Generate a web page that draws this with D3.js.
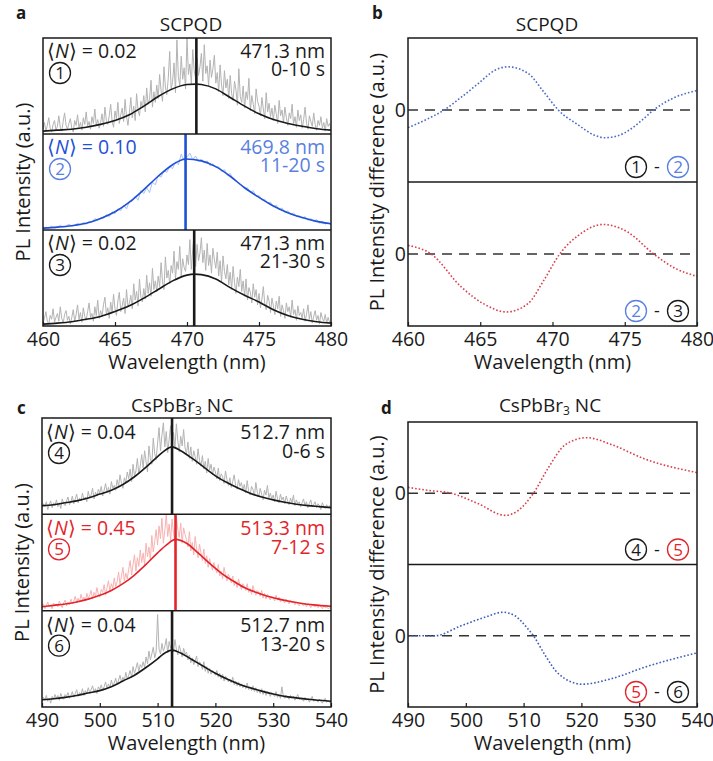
<!DOCTYPE html>
<html>
<head>
<meta charset="utf-8">
<script src="https://cdn.jsdelivr.net/npm/d3@7"></script>
<style>
body { margin: 0; background: #fff; }
svg { display: block; font-family: "Open Sans", sans-serif; }
</style>
</head>
<body>
<script>
// ---- data ----
// x ticks
var ticksA = [460, 465, 470, 475, 480];
var ticksC = [490, 500, 510, 520, 530, 540];

// panel a : raw spectra (fraction of sub-panel height), evenly spaced over 460..480 nm
// rawA1, rawA3 every 0.1 nm; rawA2 every 0.2 nm
var rawA1 = [
  0.05,0.12,0.03,0.09,0.17,0.06,0.02,0.10,0.14,0.04,
  0.08,0.19,0.07,0.03,0.13,0.22,0.09,0.05,0.11,0.16,
  0.06,0.02,0.14,0.09,0.20,0.07,0.12,0.04,0.17,0.10,
  0.23,0.08,0.13,0.05,0.18,0.11,0.26,0.09,0.15,0.06,
  0.12,0.21,0.08,0.28,0.14,0.10,0.19,0.31,0.13,0.07,
  0.24,0.16,0.33,0.11,0.20,0.27,0.13,0.36,0.18,0.09,
  0.22,0.38,0.17,0.29,0.14,0.42,0.25,0.19,0.34,0.27,
  0.40,0.23,0.48,0.31,0.36,0.56,0.28,0.44,0.33,0.51,
  0.37,0.62,0.45,0.34,0.70,0.49,0.41,0.58,0.86,0.46,
  0.55,0.74,0.43,0.98,0.60,0.50,0.81,0.57,0.69,0.47,
  1.00,0.62,0.73,0.52,0.88,0.66,0.58,0.79,0.61,0.70,
  0.84,0.55,0.93,0.63,0.71,0.50,0.77,0.59,0.68,0.82,
  0.53,0.64,0.44,0.72,0.51,0.40,0.66,0.48,0.57,0.37,
  0.61,0.42,0.35,0.55,0.46,0.30,0.68,0.39,0.33,0.50,
  0.27,0.44,0.36,0.58,0.24,0.40,0.31,0.21,0.47,0.34,
  0.29,0.19,0.38,0.26,0.16,0.43,0.23,0.32,0.18,0.27,
  0.14,0.30,0.21,0.11,0.35,0.19,0.25,0.12,0.28,0.17,
  0.09,0.22,0.16,0.31,0.10,0.18,0.07,0.25,0.14,0.20,
  0.06,0.15,0.28,0.11,0.05,0.19,0.13,0.08,0.22,0.10,
  0.04,0.14,0.09,0.18,0.06,0.12,0.03,0.16,0.08,0.11,
  0.05];
var rawA2 = [0.01,0.03,0.02,0.04,0.02,0.03,0.05,0.03,0.04,0.06,0.04,
  0.05,0.07,0.05,0.08,0.06,0.09,0.08,0.12,0.10,0.13,
  0.12,0.16,0.14,0.19,0.17,0.22,0.20,0.26,0.22,0.30,
  0.30,0.35,0.31,0.41,0.38,0.44,0.39,0.50,0.47,0.57,
  0.55,0.62,0.60,0.66,0.64,0.71,0.68,0.79,0.72,0.76,
  0.80,0.73,0.77,0.71,0.74,0.70,0.72,0.67,0.69,0.65,
  0.66,0.61,0.63,0.57,0.59,0.53,0.51,0.48,0.47,0.43,
  0.44,0.39,0.41,0.35,0.36,0.31,0.32,0.28,0.29,0.24,
  0.26,0.21,0.23,0.18,0.20,0.16,0.18,0.14,0.15,0.12,
  0.14,0.10,0.12,0.09,0.11,0.07,0.09,0.06,0.08,0.05];
var rawA3 = [
  0.03,0.08,0.15,0.05,0.02,0.11,0.07,0.18,0.04,0.09,
  0.13,0.05,0.20,0.08,0.03,0.12,0.16,0.06,0.10,0.02,
  0.09,0.17,0.05,0.12,0.22,0.07,0.14,0.04,0.19,0.10,
  0.06,0.15,0.24,0.09,0.13,0.05,0.20,0.11,0.27,0.08,
  0.16,0.10,0.22,0.30,0.12,0.19,0.08,0.25,0.14,0.33,
  0.18,0.11,0.26,0.35,0.15,0.21,0.29,0.13,0.38,0.20,
  0.24,0.32,0.18,0.44,0.27,0.36,0.21,0.49,0.30,0.25,
  0.39,0.28,0.53,0.34,0.45,0.31,0.60,0.38,0.47,0.36,
  0.52,0.41,0.66,0.46,0.38,0.72,0.50,0.58,0.44,0.63,
  0.55,0.78,0.49,0.67,0.59,0.83,0.52,0.70,0.61,0.57,
  0.74,0.64,0.90,0.59,0.80,0.97,0.62,0.85,0.68,0.76,
  0.92,0.66,0.79,0.58,0.86,0.63,0.74,0.55,0.81,0.69,
  0.60,0.77,0.52,0.68,0.46,0.73,0.57,0.49,0.64,0.43,
  0.56,0.38,0.62,0.45,0.34,0.51,0.41,0.59,0.36,0.47,
  0.31,0.49,0.27,0.40,0.35,0.24,0.44,0.30,0.38,0.22,
  0.34,0.19,0.28,0.41,0.23,0.17,0.32,0.26,0.14,0.29,
  0.21,0.12,0.26,0.18,0.31,0.10,0.22,0.16,0.08,0.24,
  0.15,0.20,0.09,0.27,0.12,0.17,0.06,0.21,0.11,0.14,
  0.08,0.18,0.05,0.12,0.22,0.07,0.15,0.03,0.10,0.16,
  0.06,0.11,0.02,0.14,0.08,0.05,0.12,0.03,0.09,0.04,
  0.03];

// panel a : fitted curves [nm, fraction]
var fitA1 = [[460,0.03],[461,0.04],[462,0.05],[463,0.07],[464,0.10],[465,0.14],[466,0.20],[467,0.29],[468,0.39],[469,0.47],[470,0.515],[470.65,0.52],[471,0.515],[472,0.47],[473,0.38],[474,0.29],[475,0.21],[476,0.15],[477,0.11],[478,0.08],[479,0.055],[480,0.04]];
var fitA2 = [[460,0.02],[461,0.03],[462,0.045],[463,0.07],[464,0.12],[465,0.19],[466,0.29],[467,0.42],[468,0.56],[469,0.68],[469.9,0.74],[471,0.72],[472,0.66],[473,0.56],[474,0.44],[475,0.34],[476,0.25],[477,0.18],[478,0.13],[479,0.09],[480,0.065]];
var fitA3 = [[460,0.02],[461,0.03],[462,0.045],[463,0.07],[464,0.10],[465,0.15],[466,0.21],[467,0.29],[468,0.38],[469,0.47],[470,0.53],[470.5,0.54],[471,0.535],[472,0.49],[473,0.40],[474,0.32],[475,0.25],[476,0.17],[477,0.11],[478,0.07],[479,0.045],[480,0.03]];
var peaksA = [470.65, 469.9, 470.5];
var nA = ["0.02", "0.10", "0.02"];
var wlA = ["471.3 nm", "469.8 nm", "471.3 nm"];
var timeA = ["0-10 s", "11-20 s", "21-30 s"];
var numA = ["1", "2", "3"];

// panel c : raw spectra, 490..540 nm every 0.25 nm
var rawC4 = [
  0.06,0.11,0.08,0.13,0.05,0.10,0.14,0.07,0.12,0.09,
  0.15,0.08,0.12,0.06,0.16,0.11,0.09,0.14,0.18,0.10,
  0.13,0.19,0.11,0.16,0.21,0.12,0.17,0.14,0.22,0.15,
  0.18,0.13,0.24,0.17,0.20,0.27,0.16,0.23,0.19,0.26,
  0.22,0.29,0.19,0.25,0.32,0.23,0.28,0.21,0.34,0.27,
  0.30,0.25,0.36,0.29,0.41,0.32,0.27,0.38,0.33,0.44,
  0.37,0.47,0.34,0.52,0.40,0.45,0.58,0.42,0.50,0.62,
  0.48,0.66,0.55,0.44,0.71,0.58,0.52,0.79,0.63,0.57,
  0.74,0.90,0.66,0.82,0.95,0.70,0.86,0.64,0.78,0.92,
  0.73,0.85,0.68,0.94,0.76,0.65,0.81,0.71,0.88,0.69,
  0.63,0.75,0.58,0.70,0.55,0.66,0.60,0.52,0.68,0.56,
  0.50,0.61,0.47,0.55,0.43,0.58,0.46,0.52,0.41,0.49,
  0.44,0.37,0.48,0.35,0.42,0.39,0.32,0.45,0.36,0.30,
  0.38,0.28,0.34,0.41,0.30,0.26,0.36,0.29,0.33,0.25,
  0.31,0.22,0.35,0.24,0.20,0.29,0.26,0.19,0.33,0.23,
  0.18,0.27,0.21,0.15,0.25,0.20,0.30,0.17,0.22,0.16,
  0.20,0.13,0.24,0.16,0.12,0.21,0.15,0.18,0.11,0.19,
  0.14,0.10,0.17,0.12,0.20,0.09,0.15,0.11,0.13,0.08,
  0.12,0.16,0.09,0.13,0.07,0.11,0.15,0.08,0.10,0.13,
  0.07,0.11,0.09,0.05,0.12,0.08,0.06,0.10,0.07,0.09,
  0.06];
var rawC5 = [
  0.03,0.07,0.02,0.05,0.09,0.04,0.06,0.02,0.08,0.05,
  0.07,0.04,0.10,0.06,0.03,0.08,0.11,0.05,0.09,0.06,
  0.12,0.07,0.10,0.15,0.08,0.13,0.09,0.17,0.11,0.14,
  0.10,0.18,0.13,0.16,0.21,0.12,0.19,0.15,0.24,0.17,
  0.14,0.22,0.19,0.27,0.16,0.24,0.31,0.20,0.28,0.23,
  0.34,0.25,0.30,0.40,0.27,0.36,0.45,0.31,0.39,0.33,
  0.43,0.52,0.37,0.48,0.58,0.41,0.55,0.46,0.63,0.50,
  0.60,0.47,0.70,0.56,0.66,0.52,0.78,0.61,0.72,0.84,
  0.68,0.88,0.75,0.96,0.70,0.83,1.00,0.77,0.90,0.73,
  0.95,0.80,0.72,0.98,0.84,0.76,0.91,0.70,0.86,0.79,
  0.74,0.66,0.82,0.62,0.71,0.58,0.77,0.64,0.55,0.69,
  0.60,0.52,0.64,0.49,0.57,0.45,0.54,0.47,0.42,0.50,
  0.44,0.39,0.48,0.36,0.41,0.33,0.45,0.37,0.31,0.38,
  0.34,0.29,0.36,0.26,0.31,0.24,0.33,0.27,0.22,0.28,
  0.25,0.21,0.28,0.19,0.23,0.17,0.26,0.20,0.16,0.21,
  0.19,0.15,0.21,0.13,0.18,0.12,0.17,0.14,0.11,0.15,
  0.13,0.10,0.16,0.11,0.14,0.09,0.12,0.10,0.08,0.12,
  0.10,0.07,0.11,0.08,0.10,0.06,0.09,0.07,0.05,0.08,
  0.07,0.05,0.08,0.04,0.07,0.06,0.03,0.06,0.05,0.04,
  0.05,0.03,0.06,0.04,0.02,0.05,0.03,0.04,0.02,0.03,
  0.03];
var rawC6 = [
  0.05,0.10,0.07,0.12,0.06,0.09,0.04,0.11,0.08,0.13,
  0.09,0.12,0.07,0.14,0.10,0.08,0.13,0.11,0.15,0.09,
  0.12,0.16,0.10,0.14,0.18,0.11,0.15,0.13,0.19,0.12,
  0.17,0.14,0.20,0.15,0.18,0.22,0.16,0.19,0.14,0.21,
  0.18,0.23,0.17,0.21,0.26,0.19,0.24,0.20,0.28,0.22,
  0.25,0.30,0.23,0.28,0.33,0.26,0.31,0.27,0.36,0.29,
  0.33,0.38,0.31,0.42,0.35,0.40,0.46,0.37,0.44,0.41,
  0.47,0.41,0.52,0.45,0.58,0.49,0.55,0.62,0.51,0.57,
  0.96,0.60,0.55,0.66,0.58,0.63,0.71,0.56,0.68,0.61,
  0.65,0.57,0.70,0.60,0.54,0.64,0.58,0.52,0.61,0.55,
  0.57,0.49,0.54,0.46,0.51,0.44,0.48,0.53,0.42,0.47,
  0.44,0.39,0.47,0.37,0.42,0.35,0.40,0.34,0.38,0.36,
  0.33,0.38,0.31,0.35,0.29,0.34,0.27,0.32,0.30,0.26,
  0.29,0.25,0.31,0.23,0.27,0.22,0.26,0.21,0.24,0.20,
  0.23,0.19,0.25,0.18,0.21,0.17,0.22,0.16,0.20,0.15,
  0.18,0.14,0.19,0.13,0.17,0.12,0.16,0.14,0.11,0.15,
  0.13,0.11,0.16,0.10,0.13,0.09,0.21,0.11,0.09,0.12,
  0.10,0.08,0.12,0.09,0.11,0.07,0.10,0.13,0.08,0.09,
  0.08,0.06,0.10,0.07,0.09,0.05,0.08,0.11,0.06,0.07,
  0.07,0.05,0.08,0.06,0.04,0.07,0.09,0.05,0.06,0.05,
  0.06];

var fitC4 = [[490,0.09],[492,0.10],[494,0.12],[496,0.14],[498,0.17],[500,0.21],[502,0.25],[504,0.31],[506,0.39],[508,0.49],[510,0.60],[511,0.65],[512.5,0.70],[514,0.66],[516,0.58],[518,0.49],[520,0.40],[522,0.33],[524,0.27],[526,0.22],[528,0.18],[530,0.15],[532,0.125],[534,0.105],[536,0.09],[538,0.08],[540,0.07]];
var fitC5 = [[490,0.04],[492,0.055],[494,0.07],[496,0.09],[498,0.12],[500,0.16],[502,0.21],[504,0.28],[506,0.37],[508,0.48],[510,0.60],[511.5,0.68],[513.1,0.74],[515,0.70],[517,0.60],[519,0.49],[521,0.39],[523,0.31],[525,0.24],[527,0.19],[529,0.15],[531,0.12],[533,0.095],[535,0.075],[537,0.06],[540,0.045]];
var fitC6 = [[490,0.075],[492,0.085],[494,0.10],[496,0.12],[498,0.145],[500,0.17],[502,0.21],[504,0.27],[506,0.33],[508,0.41],[510,0.50],[511,0.55],[512.5,0.59],[514,0.56],[516,0.49],[518,0.42],[520,0.35],[522,0.29],[524,0.24],[526,0.20],[528,0.165],[530,0.135],[532,0.11],[534,0.095],[536,0.08],[538,0.07],[540,0.06]];
var peaksC = [512.5, 513.1, 512.5];
var nC = ["0.04", "0.45", "0.04"];
var wlC = ["512.7 nm", "513.3 nm", "512.7 nm"];
var timeC = ["0-6 s", "7-12 s", "13-20 s"];
var numC = ["4", "5", "6"];

// difference spectra (b, d), relative units, 0 = dashed line
var diff12 = [[460,-0.245],[461.4,-0.12],[462.5,0],[463.7,0.18],[464.85,0.365],[466,0.55],[466.9,0.6],[468.3,0.51],[469.4,0.25],[470.4,0],[471.8,-0.21],[472.9,-0.35],[473.6,-0.385],[474.5,-0.36],[475.3,-0.28],[476.2,-0.14],[477,0],[478.3,0.16],[480,0.27]];
var diff23 = [[460,0.12],[461.6,0],[463.7,-0.46],[465.3,-0.7],[466.8,-0.805],[468.3,-0.69],[469.4,-0.365],[470.5,0],[471.8,0.26],[473.5,0.41],[475.2,0.305],[477,0],[478.5,-0.2],[480,-0.31]];
var diff45 = [[490,0.083],[493.5,0.04],[497.5,0],[502.1,-0.145],[506.8,-0.31],[509.1,-0.24],[511.7,0],[514.3,0.36],[517.2,0.68],[520.9,0.78],[525.3,0.68],[531,0.48],[540,0.29]];
var diff56 = [[490,0],[494.6,0],[499.2,0.14],[503.3,0.26],[506.4,0.33],[508.5,0.28],[510.8,0.09],[511.7,0],[513.7,-0.27],[516,-0.53],[520.1,-0.68],[525.3,-0.6],[531,-0.44],[540,-0.24]];

// ---- drawing ----
var width = 713, height = 761;
var BLACK = "#1a1a1a", GREY = "#b3b3b3",
    BLUE = "#1f50d6", BLUE_LT = "#a9c3f3", BLUE_TXT = "#5a80e0",
    RED = "#e3252b", RED_LT = "#f7b2b2";

var svg = d3.select("body").append("svg")
    .attr("width", width)
    .attr("height", height);

var clipId = 0;

function xAxis(g, x, ticks, bottom) {
  g.append("g")
    .attr("transform", "translate(0," + bottom + ")")
    .call(d3.axisBottom(x).tickValues(ticks).tickSizeInner(-4).tickSizeOuter(0).tickPadding(6))
    .call(function(a) {
      a.select(".domain").remove();
      a.selectAll("line").attr("stroke", BLACK).attr("stroke-width", 1.2);
      a.selectAll("text").attr("font-size", 19.5).attr("font-family", "Open Sans").attr("fill", BLACK);
    });
}

function circled(g, cx, cy, digit, color) {
  g.append("circle").attr("cx", cx).attr("cy", cy).attr("r", 10.5)
    .attr("fill", "none").attr("stroke", color).attr("stroke-width", 1.3);
  g.append("text").attr("x", cx).attr("y", cy + 6).attr("text-anchor", "middle")
    .attr("font-size", 17).attr("fill", color).text(digit);
}

function spectraPanel(opt) {
  var g = svg.append("g");
  var x = d3.scaleLinear().domain(opt.domain).range([opt.left, opt.right]);
  var span = opt.domain[1] - opt.domain[0];
  var h = (opt.bottom - opt.top) / 3;
  for (var i = 0; i < 3; i++) {
    var t = opt.top + i * h, b = t + h;
    var y = d3.scaleLinear().domain([0, 1]).range([b, t]);
    var id = "clip" + (clipId++);
    g.append("clipPath").attr("id", id).append("rect")
      .attr("x", opt.left).attr("y", t).attr("width", opt.right - opt.left).attr("height", h);
    var s = g.append("g").attr("clip-path", "url(#" + id + ")");
    var raw = opt.raw[i], step = span / (raw.length - 1);
    s.append("path")
      .datum(raw)
      .attr("fill", "none")
      .attr("stroke", opt.rawColor[i])
      .attr("stroke-width", 1)
      .attr("d", d3.line()
        .x(function(d, k) { return x(opt.domain[0] + k * step); })
        .y(function(d) { return y(d); }));
    s.append("path")
      .datum(opt.fit[i])
      .attr("fill", "none")
      .attr("stroke", opt.fitColor[i])
      .attr("stroke-width", 1.6)
      .attr("d", d3.line().curve(d3.curveMonotoneX)
        .x(function(d) { return x(d[0]); })
        .y(function(d) { return y(d[1]); }));
    s.append("line")
      .attr("x1", x(opt.peaks[i])).attr("x2", x(opt.peaks[i]))
      .attr("y1", b).attr("y2", t)
      .attr("stroke", opt.fitColor[i]).attr("stroke-width", 2.6);

    // labels
    var nt = g.append("text").attr("x", opt.left + 4).attr("y", t + opt.lineY[0])
      .attr("font-size", 19.5).attr("fill", opt.nColor[i]);
    nt.append("tspan").text("\u27E8");
    nt.append("tspan").attr("font-style", "italic").text("N");
    nt.append("tspan").text("\u27E9 = " + opt.n[i]);
    circled(g, opt.left + 17, t + opt.circY, opt.num[i], opt.circColor[i]);
    var rt = g.append("text").attr("text-anchor", "end").attr("font-size", 19.5)
      .attr("fill", opt.wlColor[i]);
    rt.append("tspan").attr("x", opt.right - 6).attr("y", t + opt.lineY[0]).text(opt.wl[i]);
    rt.append("tspan").attr("x", opt.right - 6).attr("y", t + opt.lineY[1]).text(opt.time[i]);
    if (i > 0) {
      g.append("line").attr("x1", opt.left).attr("x2", opt.right).attr("y1", t).attr("y2", t)
        .attr("stroke", BLACK).attr("stroke-width", 1.5);
    }
  }
  g.append("rect").attr("x", opt.left).attr("y", opt.top)
    .attr("width", opt.right - opt.left).attr("height", opt.bottom - opt.top)
    .attr("fill", "none").attr("stroke", BLACK).attr("stroke-width", 1.5);
  xAxis(g, x, opt.ticks, opt.bottom);
  axisTitles(g, opt, "PL Intensity (a.u.)", opt.left - 13);
}

function axisTitles(g, opt, ylab, yx) {
  var cx = (opt.left + opt.right) / 2, cy = (opt.top + opt.bottom) / 2;
  g.append("text").attr("x", cx).attr("y", opt.bottom + 43).attr("text-anchor", "middle")
    .attr("font-size", 20).attr("fill", BLACK).text("Wavelength (nm)");
  g.append("text").attr("transform", "translate(" + yx + "," + cy + ") rotate(-90)")
    .attr("text-anchor", "middle").attr("font-size", 20).attr("fill", BLACK).text(ylab);
  var tt = g.append("text").attr("x", opt.titleX).attr("y", opt.titleY).attr("text-anchor", "middle")
    .attr("font-size", 19).attr("fill", BLACK);
  opt.title.forEach(function(p) {
    var ts = tt.append("tspan").text(p[0]);
    if (p[1]) ts.attr("font-size", 12).attr("dy", 3);
    else if (p[2]) ts.attr("dy", -3);
  });
  g.append("text").attr("x", opt.letterX).attr("y", opt.letterY)
    .attr("font-size", 17).attr("font-weight", "bold").attr("fill", BLACK).text(opt.letter);
}

function diffPanel(opt) {
  var g = svg.append("g");
  var x = d3.scaleLinear().domain(opt.domain).range([opt.left, opt.right]);
  var h = (opt.bottom - opt.top) / 2;
  for (var i = 0; i < 2; i++) {
    var t = opt.top + i * h, b = t + h;
    var y = d3.scaleLinear().domain([-1, 1]).range([b, t]);
    g.append("line").attr("x1", opt.left).attr("x2", opt.right)
      .attr("y1", y(0)).attr("y2", y(0))
      .attr("stroke", "#333").attr("stroke-width", 1.5).attr("stroke-dasharray", "10,7");
    g.append("text").attr("x", opt.left - 2).attr("y", y(0) + 7)
      .attr("text-anchor", "end").attr("font-size", 19.5).attr("fill", BLACK).text("0");
    g.append("path")
      .datum(opt.curves[i])
      .attr("fill", "none")
      .attr("stroke", opt.colors[i])
      .attr("stroke-width", 1.6)
      .attr("stroke-dasharray", "1.6,2")
      .attr("d", d3.line().curve(d3.curveMonotoneX)
        .x(function(d) { return x(d[0]); })
        .y(function(d) { return y(d[1]); }));
    var lab = opt.labels[i];
    circled(g, opt.right - 19, b - 15, lab[2], lab[3]);
    g.append("text").attr("x", opt.right - 40).attr("y", b - 9).attr("text-anchor", "middle")
      .attr("font-size", 18).attr("fill", BLACK).text("-");
    circled(g, opt.right - 61, b - 15, lab[0], lab[1]);
    if (i > 0) {
      g.append("line").attr("x1", opt.left).attr("x2", opt.right).attr("y1", t).attr("y2", t)
        .attr("stroke", BLACK).attr("stroke-width", 1.5);
    }
  }
  g.append("rect").attr("x", opt.left).attr("y", opt.top)
    .attr("width", opt.right - opt.left).attr("height", opt.bottom - opt.top)
    .attr("fill", "none").attr("stroke", BLACK).attr("stroke-width", 1.5);
  xAxis(g, x, opt.ticks, opt.bottom);
  axisTitles(g, opt, "PL Intensity difference (a.u.)", opt.left - 24);
}

spectraPanel({
  left: 43, right: 331, top: 38, bottom: 326, domain: [460, 480], ticks: ticksA,
  raw: [rawA1, rawA2, rawA3], fit: [fitA1, fitA2, fitA3],
  peaks: peaksA, n: nA, wl: wlA, time: timeA, num: numA, lineY: [20, 38], circY: 35,
  rawColor: [GREY, BLUE_LT, GREY], fitColor: [BLACK, BLUE, BLACK],
  nColor: [BLACK, BLUE, BLACK], wlColor: [BLACK, BLUE_TXT, BLACK], circColor: [BLACK, BLUE_TXT, BLACK],
  title: [["SCPQD"]], titleX: 191, titleY: 31, letter: "a", letterX: 16, letterY: 19
});

spectraPanel({
  left: 42, right: 331, top: 418, bottom: 707, domain: [490, 540], ticks: ticksC,
  raw: [rawC4, rawC5, rawC6], fit: [fitC4, fitC5, fitC6],
  peaks: peaksC, n: nC, wl: wlC, time: timeC, num: numC, lineY: [21, 40], circY: 35,
  rawColor: [GREY, RED_LT, GREY], fitColor: [BLACK, RED, BLACK],
  nColor: [BLACK, RED, BLACK], wlColor: [BLACK, RED, BLACK], circColor: [BLACK, RED, BLACK],
  title: [["CsPbBr"], ["3", true], ["\u00A0NC", false, true]], titleX: 182, titleY: 412,
  letter: "c", letterX: 17, letterY: 414
});

diffPanel({
  left: 408, right: 697, top: 38, bottom: 326, domain: [460, 480], ticks: ticksA,
  curves: [diff12, diff23], colors: ["#4a6cc8", "#d8404c"],
  labels: [["1", BLACK, "2", BLUE_TXT], ["2", BLUE_TXT, "3", BLACK]],
  title: [["SCPQD"]], titleX: 547, titleY: 31, letter: "b", letterX: 372, letterY: 19
});

diffPanel({
  left: 408, right: 697, top: 422, bottom: 707, domain: [490, 540], ticks: ticksC,
  curves: [diff45, diff56], colors: ["#d8404c", "#3d5cb8"],
  labels: [["4", BLACK, "5", RED], ["5", RED, "6", BLACK]],
  title: [["CsPbBr"], ["3", true], ["\u00A0NC", false, true]], titleX: 550, titleY: 412,
  letter: "d", letterX: 381, letterY: 414
});
</script>
</body>
</html>
